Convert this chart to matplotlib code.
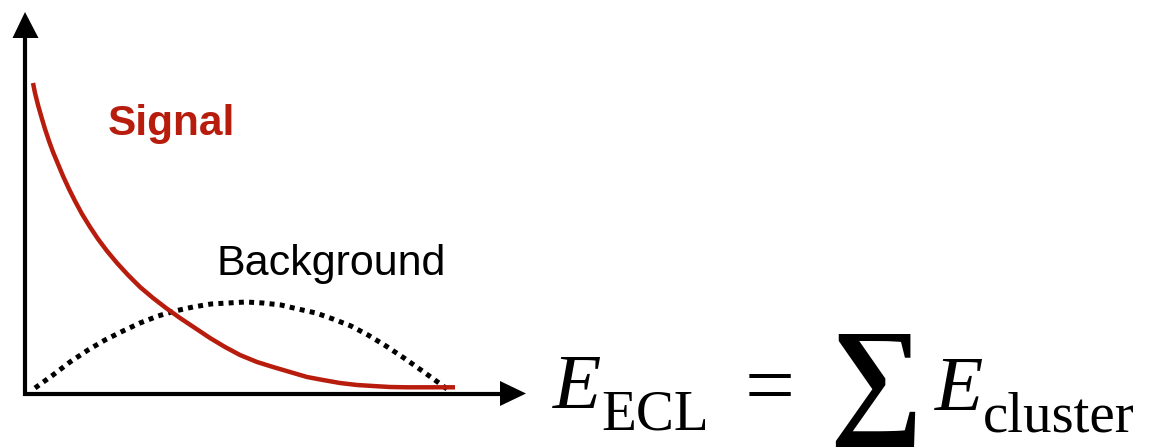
import numpy as np
import matplotlib
matplotlib.use("Agg")
import matplotlib.pyplot as plt
from matplotlib.patches import Polygon

# curve samples (x, y) in canvas pixels, y grows downward
signal_x = [33, 35, 38, 42, 45, 49, 53, 58, 63, 69, 75, 82, 90, 98, 107, 117,
            128, 140, 153, 166, 180, 195, 210, 225, 240, 257, 273, 290, 307,
            323, 340, 357, 373, 390, 407, 423, 440, 455]
signal_y = [83, 93, 105, 119, 129, 141, 152, 164, 176, 189, 201, 214, 227, 239,
            251, 263, 275, 287, 298, 308, 318, 328, 338, 347, 355, 362, 367,
            372, 377, 380, 383, 385, 386, 387, 387.3, 387.3, 387.3, 387.3]

background_x = [35, 53, 70, 88, 105, 123, 140, 158, 175, 193, 211, 228, 246,
                263, 281, 298, 316, 333, 351, 368, 386, 404, 421, 439, 447]
background_y = [388, 375, 362, 350, 340, 331, 323, 316, 311, 307, 304, 303,
                302, 303, 305, 309, 313, 319, 326, 335, 346, 358, 370, 383, 389]

W, H = 1149, 447
RED = "#B71C0C"

fig = plt.figure(figsize=(W / 100, H / 100), dpi=100)
ax = fig.add_axes([0, 0, 1, 1])
ax.set_xlim(0, W)
ax.set_ylim(H, 0)
ax.axis("off")

# axes with arrow heads
ax.plot([25, 25], [395.5, 36], color="black", lw=3, solid_capstyle="butt")
ax.plot([23, 502], [393.5, 393.5], color="black", lw=3, solid_capstyle="butt")
ax.add_patch(Polygon([[12.5, 38], [38.5, 38], [25, 12]], closed=True,
                     color="black", lw=0))
ax.add_patch(Polygon([[500, 381], [500, 406], [526, 393.5]], closed=True,
                     color="black", lw=0))

ax.plot(signal_x, signal_y, color=RED, lw=3.2, solid_capstyle="butt",
        solid_joinstyle="round", zorder=3)
ax.plot(background_x, background_y, color="black", lw=3.6,
        linestyle=(0, (1.0, 1.05)), dash_capstyle="butt", zorder=2)

ax.text(108, 135, "Signal", color=RED, fontsize=30.5, fontweight="bold",
        family="Liberation Sans", va="baseline", ha="left")
ax.text(216, 275, "Background", color="black", fontsize=31,
        family="Liberation Sans", va="baseline", ha="left")

# E_ECL = sum E_cluster
serif = ["Liberation Serif", "DejaVu Serif"]
ax.text(553, 408, "E", fontsize=57, style="italic", family=serif,
        va="baseline", ha="left")
ax.text(601, 429, "ECL", fontsize=41, family=serif, va="baseline", ha="left")
ax.text(745, 414, "=", fontsize=64, family=serif, va="baseline", ha="left")
ax.text(829, 419, "\u2211", fontsize=94, fontweight="bold", family=serif,
        va="baseline", ha="left")
ax.text(935, 410, "E", fontsize=57, style="italic", family=serif,
        va="baseline", ha="left")
ax.text(983, 431, "cluster", fontsize=41, family=serif, va="baseline", ha="left")

fig.savefig("out.png", dpi=100)
